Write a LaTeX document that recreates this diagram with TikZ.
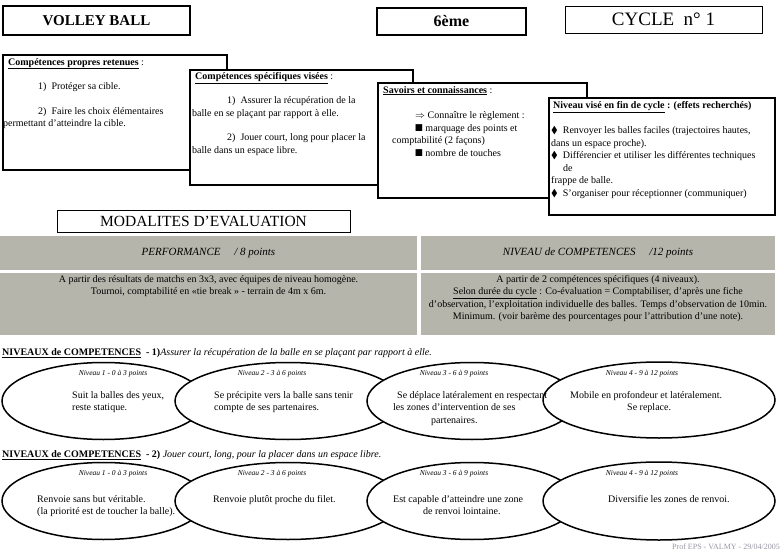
\documentclass[tikz,border=0pt]{standalone}
\usepackage{amssymb}
\usepackage{fontspec}
\setmainfont{Liberation Serif}
\usetikzlibrary{positioning,shapes.geometric}
\definecolor{cellgrey}{RGB}{181,181,171}
\definecolor{footgrey}{RGB}{150,150,165}

\begin{document}
\begin{tikzpicture}[x=1pt, y=-1pt,
  titlebox/.style={rectangle, draw=black, fill=white, inner sep=0pt},
  panel/.style={rectangle, draw=black, fill=white, line width=1.5pt, inner sep=0pt},
  cell/.style={rectangle, fill=cellgrey, inner sep=0pt},
  lvl/.style={ellipse, draw=black, fill=white, line width=1.5pt, inner sep=0pt},
  txt/.style={inner sep=0pt, align=left, font=\fontsize{10}{12.5}\selectfont},
  lbl/.style={inner sep=0pt, font=\fontsize{7.5}{7.5}\selectfont\itshape}
]
\useasboundingbox (0,0) rectangle (781,553);

% Header boxes
\node[titlebox, minimum width=187pt, minimum height=29pt, line width=1.2pt,
      font=\fontsize{15}{15}\selectfont\bfseries] (title) at (96.5,20.5) {VOLLEY BALL};
\node[titlebox, minimum width=149pt, minimum height=27pt, line width=1.6pt,
      font=\fontsize{16}{16}\selectfont\bfseries] (grade) at (451.5,21.5) {6ème};
\node[titlebox, minimum width=197pt, minimum height=27pt, line width=0.8pt,
      font=\fontsize{19}{19}\selectfont] (cycle) at (663.5,19.5) {CYCLE~~n° 1};

% Competence panels
\node[panel, minimum width=224pt, minimum height=115pt] (propres) at (115,112.5) {};
\node[txt, anchor=north west] (propres-txt) at (3,58)
  {\hspace*{5pt}\textbf{\underline{Compétences propres retenues}} :\\[12pt]
   \hspace*{35pt}1)~~Protéger sa cible.\\[12pt]
   \hspace*{35pt}2)~~Faire les choix élémentaires\\
   permettant d’atteindre la cible.};

\node[panel, minimum width=223pt, minimum height=115pt] (specif) at (301.5,127.5) {};
\node[txt, anchor=north west] (specif-txt) at (192,72)
  {\hspace*{3pt}\textbf{\underline{Compétences spécifiques visées}} :\\[12pt]
   \hspace*{35pt}1)~~Assurer la récupération de la\\
   balle en se plaçant par rapport à elle.\\[12pt]
   \hspace*{35pt}2)~~Jouer court, long pour placer la\\
   balle dans un espace libre.};

\node[panel, minimum width=209pt, minimum height=115pt] (savoirs) at (482.5,140.5) {};
\node[txt, anchor=north west] (savoirs-txt) at (380,86)
  {\hspace*{3pt}\textbf{\underline{Savoirs et connaissances}} :\\[13pt]
   \hspace*{35pt}$\Rightarrow$ Connaître le règlement :\\
   \hspace*{35pt}$\blacksquare$ marquage des points et\\
   \hspace*{12pt}comptabilité (2 façons)\\
   \hspace*{35pt}$\blacksquare$ nombre de touches};

\node[panel, minimum width=226pt, minimum height=117pt] (niveauvise) at (662,156.5) {};
\node[txt, anchor=north west] (niveauvise-txt) at (551,101)
  {\hspace*{2pt}\textbf{\underline{Niveau visé en fin de cycle} : (effets recherchés)}\\[13pt]
   $\blacklozenge$~~Renvoyer les balles faciles (trajectoires hautes,\\
   dans un espace proche).\\
   $\blacklozenge$~~Différencier et utiliser les différentes techniques\\
   \hspace*{12pt}de\\
   frappe de balle.\\
   $\blacklozenge$~~S’organiser pour réceptionner (communiquer)};

% Evaluation table
\node[titlebox, minimum width=293pt, minimum height=22pt, line width=0.8pt,
      font=\fontsize{15.5}{15.5}\selectfont] (modalites) at (203.5,221) {MODALITES D’EVALUATION};

\node[cell, minimum width=417pt, minimum height=34pt, font=\fontsize{11}{11}\selectfont\itshape]
  (perf) at (208.5,253) {PERFORMANCE~~~~~/ 8 points};
\node[cell, minimum width=354pt, minimum height=34pt, font=\fontsize{11}{11}\selectfont\itshape]
  (comp) at (598,253) {NIVEAU de COMPETENCES~~~~~/12 points};
\node[cell, minimum width=417pt, minimum height=62pt] (perf-det) at (208.5,304) {};
\node[cell, minimum width=354pt, minimum height=62pt] (comp-det) at (598,304) {};
\node[txt, align=center, anchor=north] (perf-txt) at (208.5,275)
  {A partir des résultats de matchs en 3x3, avec équipes de niveau homogène.\\
   Tournoi, comptabilité en «tie break » - terrain de 4m x 6m.};
\node[txt, align=center, anchor=north] (comp-txt) at (598,275)
  {A partir de 2 compétences spécifiques (4 niveaux).\\
   \underline{Selon durée du cycle} : Co-évaluation = Comptabiliser, d’après une fiche\\
   d’observation, l’exploitation individuelle des balles. Temps d’observation de 10min.\\
   Minimum. (voir barème des pourcentages pour l’attribution d’une note).};

% Levels - competence 1
\node[txt, anchor=west] (head1) at (2,353)
  {\textbf{\underline{NIVEAUX de COMPETENCES}}~~\textbf{- 1)}\textit{Assurer la récupération de la balle en se plaçant par rapport à elle.}};
\node[lvl, minimum width=203pt, minimum height=77pt] (e11) at (103.5,401) {};
\node[lvl, minimum width=226pt, minimum height=77pt] (e12) at (288,401) {};
\node[lvl, minimum width=210pt, minimum height=77pt] (e13) at (472,401) {};
\node[lvl, minimum width=232pt, minimum height=76pt] (e14) at (659,400) {};
\node[lbl] (l11) at (113,374) {Niveau 1 - 0 à 3 points};
\node[lbl] (l12) at (272,374) {Niveau 2 - 3 à 6 points};
\node[lbl] (l13) at (454,374) {Niveau 3 - 6 à 9 points};
\node[lbl] (l14) at (642,374) {Niveau 4 - 9 à 12 points};
\node[txt, anchor=north west] (t11) at (72,391) {Suit la balles des yeux,\\reste statique.};
\node[txt, anchor=north west] (t12) at (214,391) {Se précipite vers la balle sans tenir\\compte de ses partenaires.};
\node[txt, anchor=north west] (t13) at (393,391)
  {\hspace*{4pt}Se déplace latéralement en respectant\\les zones d’intervention de ses\\\hspace*{38pt}partenaires.};
\node[txt, anchor=north west] (t14) at (570,391) {Mobile en profondeur et latéralement.\\\hspace*{57pt}Se replace.};

% Levels - competence 2
\node[txt, anchor=west] (head2) at (2,455)
  {\textbf{\underline{NIVEAUX de COMPETENCES}}~~\textbf{- 2)} \textit{Jouer court, long, pour la placer dans un espace libre.}};
\node[lvl, minimum width=203pt, minimum height=77pt] (e21) at (103.5,501) {};
\node[lvl, minimum width=226pt, minimum height=77pt] (e22) at (288,501) {};
\node[lvl, minimum width=210pt, minimum height=77pt] (e23) at (472,501) {};
\node[lvl, minimum width=232pt, minimum height=78pt] (e24) at (659,501) {};
\node[lbl] (l21) at (113,474) {Niveau 1 - 0 à 3 points};
\node[lbl] (l22) at (272,474) {Niveau 2 - 3 à 6 points};
\node[lbl] (l23) at (454,474) {Niveau 3 - 6 à 9 points};
\node[lbl] (l24) at (642,474) {Niveau 4 - 9 à 12 points};
\node[txt, anchor=north west] (t21) at (37,495) {Renvoie sans but véritable.\\(la priorité est de toucher la balle).};
\node[txt, anchor=north west] (t22) at (213,495) {Renvoie plutôt proche du filet.};
\node[txt, anchor=north west] (t23) at (393,495) {Est capable d’atteindre une zone\\\hspace*{30pt}de renvoi lointaine.};
\node[txt, anchor=north west] (t24) at (608,495) {Diversifie les zones de renvoi.};

% Footer
\node[inner sep=0pt, anchor=east, text=footgrey, font=\fontsize{8}{8}\selectfont] (footer) at (780,547)
  {Prof EPS - VALMY - 29/04/2005};
\end{tikzpicture}
\end{document}
